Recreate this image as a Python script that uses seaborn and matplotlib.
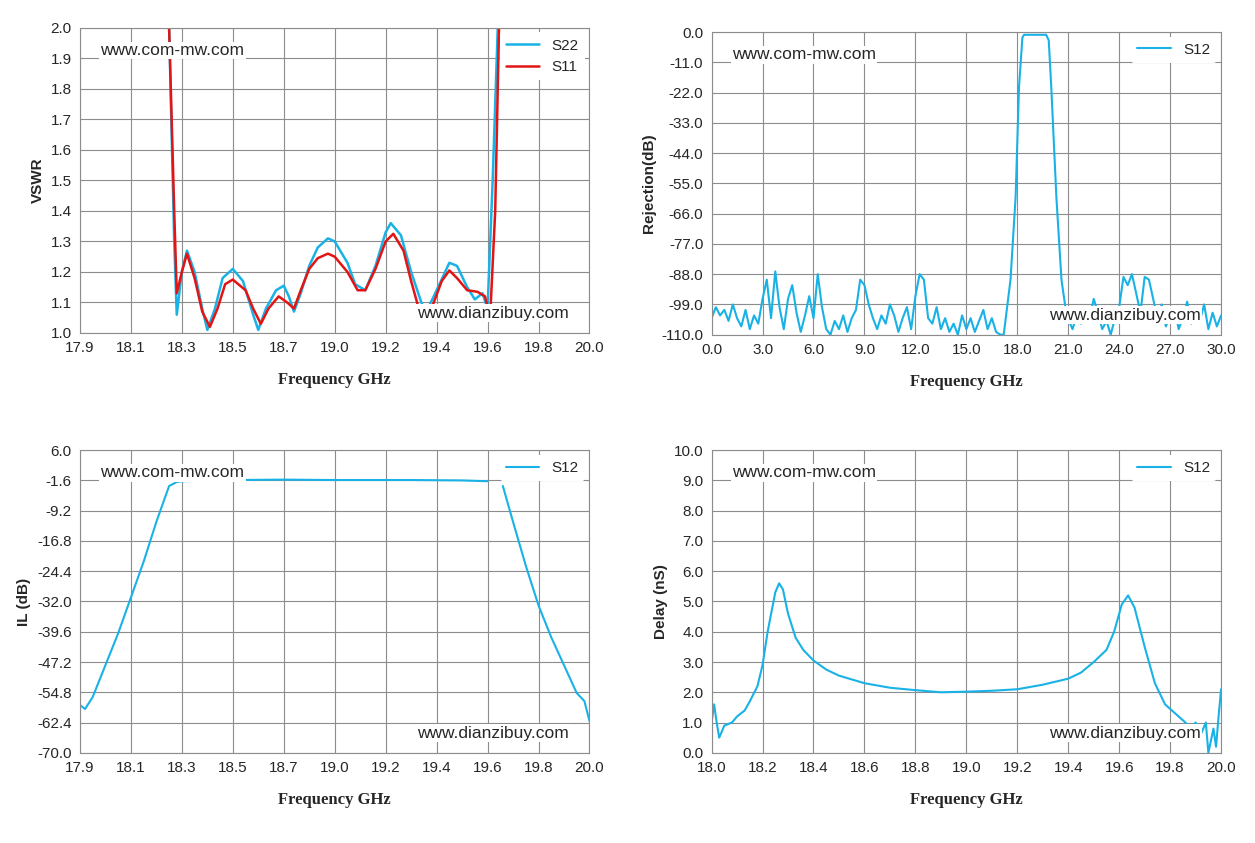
import numpy as np
import pandas as pd
import matplotlib
matplotlib.use('Agg')
import matplotlib.pyplot as plt
import seaborn as sns

# VSWR data (frequency read against the printed gridline labels)
vswr_f22 = [18.25, 18.27, 18.28, 18.3, 18.32, 18.35, 18.38, 18.4, 18.43, 18.46, 18.5, 18.54, 18.58, 18.6, 18.63,
            18.67, 18.7, 18.73, 18.76, 18.8, 18.85, 18.9, 18.96, 19.0, 19.05, 19.08, 19.12, 19.16, 19.2, 19.22,
            19.26, 19.3, 19.34, 19.36, 19.4, 19.45, 19.48, 19.52, 19.55, 19.58, 19.6, 19.62, 19.64]
vswr_s22 = [2.0, 1.3, 1.06, 1.2, 1.27, 1.2, 1.08, 1.01, 1.08, 1.18, 1.21, 1.17, 1.06, 1.01, 1.08,
            1.14, 1.155, 1.12, 1.07, 1.13, 1.22, 1.28, 1.31, 1.3, 1.23, 1.16, 1.14, 1.22, 1.33, 1.36,
            1.32, 1.2, 1.1, 1.07, 1.14, 1.23, 1.22, 1.15, 1.11, 1.13, 1.08, 1.5, 2.0]
vswr_f11 = [18.25, 18.27, 18.28, 18.3, 18.32, 18.35, 18.38, 18.41, 18.44, 18.47, 18.5, 18.55, 18.58, 18.61, 18.64,
            18.68, 18.72, 18.76, 18.8, 18.85, 18.9, 18.96, 19.0, 19.05, 19.09, 19.12, 19.16, 19.2, 19.23, 19.27,
            19.3, 19.33, 19.35, 19.38, 19.42, 19.45, 19.48, 19.52, 19.56, 19.59, 19.61, 19.63, 19.645]
vswr_s11 = [2.0, 1.4, 1.13, 1.2, 1.26, 1.18, 1.07, 1.02, 1.08, 1.16, 1.175, 1.14, 1.08, 1.03, 1.08,
            1.12, 1.1, 1.08, 1.14, 1.21, 1.245, 1.26, 1.25, 1.2, 1.14, 1.14, 1.21, 1.3, 1.325, 1.27,
            1.17, 1.08, 1.04, 1.08, 1.17, 1.205, 1.18, 1.14, 1.135, 1.12, 1.05, 1.4, 2.0]

# Rejection data
rej_low = [-104, -100, -103, -101, -105, -99, -104, -107, -101, -108, -103, -106, -97, -90, -104, -87, -100, -108,
           -97, -92, -102, -109, -103, -96, -104, -88, -100, -108, -110, -105, -108, -103, -109, -104, -101, -90,
           -92, -99, -104, -108, -103, -106, -99, -103, -109, -104, -100, -108, -96, -88, -90, -104, -106, -100,
           -108, -104, -109, -106, -110, -103, -108, -104, -109, -105, -101, -108, -104, -109, -110]
rej_band_f = [17.2, 17.6, 17.9, 18.1, 18.3, 18.4, 19.0, 19.7, 19.85, 20.0, 20.3, 20.6, 20.9]
rej_band = [-110, -90, -60, -20, -2, -1, -1, -1, -3, -20, -60, -90, -103]
rej_high = [-108, -103, -106, -100, -104, -97, -102, -108, -105, -110, -104, -100, -89, -92, -88, -95, -102, -89,
            -90, -97, -104, -99, -107, -103, -100, -108, -104, -98, -106, -101, -105, -99, -108, -102, -107, -103]

# Insertion loss data (frequency read against the printed gridline labels)
il_f1 = [17.9, 17.92, 17.95, 18.0, 18.05, 18.1, 18.15, 18.2, 18.25, 18.28, 18.3, 18.5, 18.7, 19.0, 19.3, 19.5, 19.6]
il_1 = [-58, -59, -56, -48, -40, -31, -22, -12, -3, -2, -1.8, -1.5, -1.4, -1.5, -1.5, -1.6, -1.8]
il_f2 = [19.66, 19.7, 19.75, 19.8, 19.85, 19.9, 19.95, 19.98, 20.0]
il_2 = [-3, -12, -23, -33, -41, -48, -55, -57, -62]

# Group delay data
dl_f = [18.0, 18.01, 18.02, 18.03, 18.05, 18.08, 18.1, 18.13, 18.15, 18.18, 18.2, 18.22, 18.25, 18.265, 18.28, 18.3,
        18.33, 18.36, 18.4, 18.45, 18.5, 18.6, 18.7, 18.8, 18.9, 19.0, 19.1, 19.2, 19.3, 19.4, 19.45, 19.5, 19.55,
        19.58, 19.61, 19.635, 19.66, 19.7, 19.74, 19.78, 19.82, 19.86, 19.88, 19.9, 19.92, 19.94, 19.95, 19.97,
        19.98, 19.99, 20.0]
dl = [1.0, 1.6, 1.0, 0.5, 0.9, 1.0, 1.2, 1.4, 1.7, 2.2, 2.9, 4.0, 5.3, 5.6, 5.4, 4.6,
      3.8, 3.4, 3.05, 2.75, 2.55, 2.3, 2.15, 2.07, 2.0, 2.02, 2.05, 2.1, 2.25, 2.45, 2.65, 3.0, 3.4,
      4.0, 4.9, 5.2, 4.8, 3.5, 2.3, 1.6, 1.3, 1.0, 0.8, 1.0, 0.6, 1.0, 0.0, 0.8,
      0.2, 1.2, 2.1]

# printed labels of the 17.9-20.0 axes vs. where those gridlines really sit
grid_labels = [17.9, 18.1, 18.3, 18.5, 18.7, 19.0, 19.2, 19.4, 19.6, 19.8, 20.0]
grid_true = list(np.linspace(17.9, 20.0, 11))

BLUE = '#19b2e6'
RED = '#e21414'

sns.set_style('white')
plt.rcParams['font.family'] = ['Liberation Sans', 'DejaVu Sans']
fig = plt.figure(figsize=(12.55, 8.43), dpi=100)
xlab_font = dict(family='Liberation Serif', fontweight='bold', fontsize=12)


def relabel(f):
    return np.interp(f, grid_labels, grid_true)


def style(ax, xlim, xticks, ylim, yticks, ylabel, yfmt):
    ax.set_xlim(xlim)
    ax.set_ylim(ylim)
    ax.set_xticks(xticks)
    ax.set_yticks(yticks)
    ax.set_xticklabels([f'{t + 1e-9:.1f}' for t in xticks], fontsize=11)
    ax.set_yticklabels([yfmt.format(t) for t in yticks], fontsize=11)
    ax.grid(True, color='#8c8c8c', linewidth=0.8)
    for s in ax.spines.values():
        s.set_color('#8c8c8c')
    ax.tick_params(length=0, pad=6)
    ax.set_xlabel('Frequency GHz', labelpad=12, **xlab_font)
    ax.set_ylabel(ylabel, fontsize=11, fontweight='bold')
    ax.text(0.04, 0.95, 'www.com-mw.com', transform=ax.transAxes, fontsize=12.5, va='top',
            bbox=dict(facecolor='white', edgecolor='none', pad=1))
    ax.text(0.96, 0.04, 'www.dianzibuy.com', transform=ax.transAxes, fontsize=12.5, ha='right', va='bottom',
            bbox=dict(facecolor='white', edgecolor='none', pad=1))
    leg = ax.legend(loc='upper right', frameon=True, fontsize=11, borderaxespad=0.3, handlelength=2.2)
    leg.get_frame().set_edgecolor('none')
    leg.get_frame().set_alpha(1)


xt_a = np.linspace(17.9, 20.0, 11)

# VSWR
ax1 = fig.add_axes([0.0637, 0.605, 0.406, 0.362])
sns.lineplot(x=relabel(vswr_f22), y=vswr_s22, ax=ax1, color=BLUE, lw=1.8, sort=False, label='S22')
sns.lineplot(x=relabel(vswr_f11), y=vswr_s11, ax=ax1, color=RED, lw=1.8, sort=False, label='S11')
style(ax1, (17.9, 20.0), xt_a, (1.0, 2.0),
      np.round(np.arange(1.0, 2.01, 0.1), 1), 'VSWR', '{:.1f}')
ax1.get_legend()._legend_box.sep = 20

# Rejection
ax2 = fig.add_axes([0.567, 0.603, 0.406, 0.359])
rej_f = list(np.arange(0, 17.01, 0.25)) + rej_band_f + list(np.arange(21.25, 30.01, 0.25))
rej_v = rej_low + rej_band + rej_high
sns.lineplot(x=rej_f, y=rej_v, ax=ax2, color=BLUE, lw=1.5, sort=False, label='S12')
style(ax2, (0, 30), np.arange(0, 30.1, 3.0), (-110, 0), np.arange(-110, 0.1, 11.0), 'Rejection(dB)', '{:.1f}')

# Insertion loss
ax3 = fig.add_axes([0.0637, 0.107, 0.406, 0.359])
sns.lineplot(x=relabel(il_f1), y=il_1, ax=ax3, color=BLUE, lw=1.5, sort=False, label='S12')
sns.lineplot(x=relabel(il_f2), y=il_2, ax=ax3, color=BLUE, lw=1.5, sort=False)
style(ax3, (17.9, 20.0), xt_a, (-70, 6),
      np.round(np.arange(-70, 6.1, 7.6), 1), 'IL (dB)', '{:.1f}')

# Delay
ax4 = fig.add_axes([0.567, 0.107, 0.406, 0.359])
sns.lineplot(x=dl_f, y=dl, ax=ax4, color=BLUE, lw=1.5, sort=False, label='S12')
style(ax4, (18.0, 20.0), np.round(np.arange(18.0, 20.01, 0.2), 1), (0, 10),
      np.arange(0, 10.1, 1.0), 'Delay (nS)', '{:.1f}')

plt.savefig('out.png', dpi=100)
